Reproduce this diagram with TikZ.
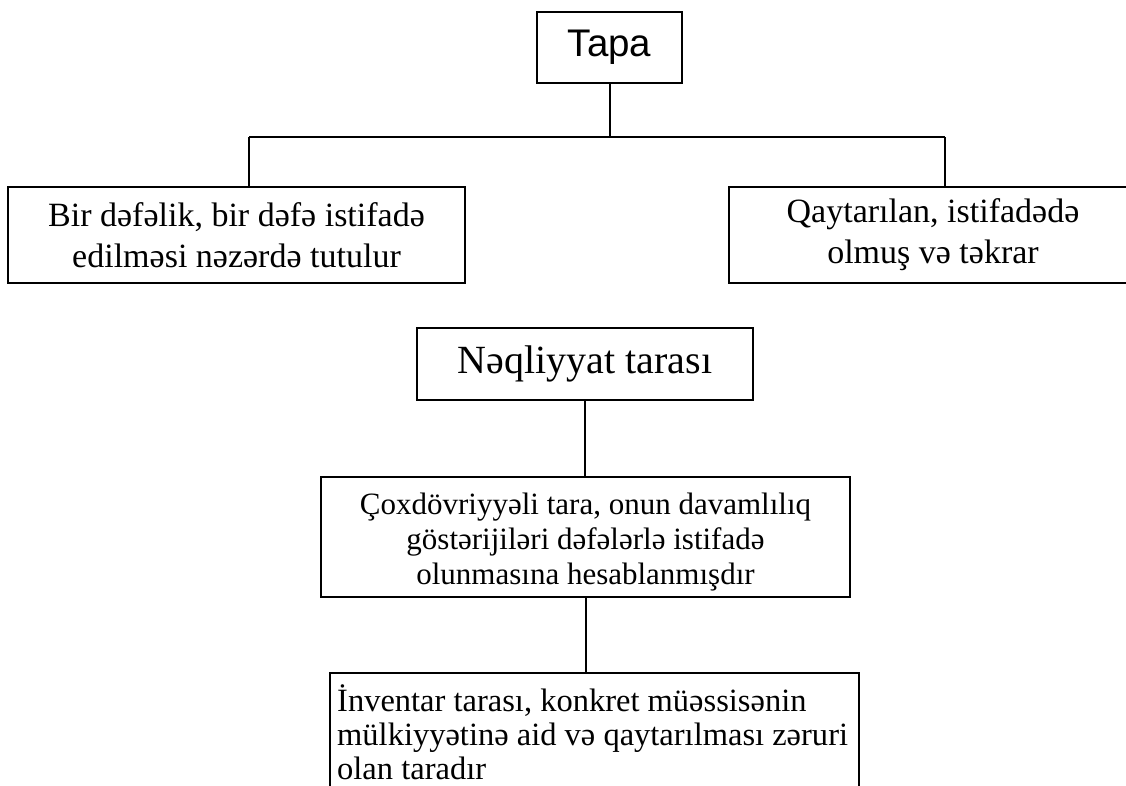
\documentclass[tikz,border=0pt]{standalone}
\usepackage{fontspec}
\setmainfont{Liberation Serif}
\newfontfamily\arialfont{Liberation Sans}
\newcommand\tightlines{\lineskiplimit=-100pt\relax}
\begin{document}
\begin{tikzpicture}[x=1pt,y=-1pt,
  box/.style={draw=black, line width=2.4pt, rectangle, inner sep=0pt},
  txtA/.style={font=\fontsize{34}{41}\selectfont\tightlines, align=center},
  txtB/.style={font=\fontsize{31}{35}\selectfont\tightlines, align=center},
  conn/.style={draw=black, line width=2pt}]
\clip (0,0) rectangle (1126,785);
\fill[white] (0,0) rectangle (1126,785);
% boxes
\node[box, minimum width=145pt, minimum height=71pt, font=\arialfont\fontsize{38.5}{42}\selectfont] (tapa) at (609.5,47.5) {Tapa};
\node[box, txtA, minimum width=457pt, minimum height=96pt] (left) at (236.5,235) {Bir dəfəlik, bir dəfə istifadə\\edilməsi nəzərdə tutulur};
\node[box, txtA, minimum width=408pt, minimum height=96pt] (right) at (933,235) {Qaytarılan, istifadədə\\olmuş və təkrar};
\node[box, minimum width=336pt, minimum height=72pt, font=\fontsize{40}{44}\selectfont] (neq) at (585,364) {Nəqliyyat tarası};
\node[box, minimum width=529pt, minimum height=120pt] (cox) at (585.5,537) {};
\node[txtB, inner sep=0pt] (coxtxt) at ([yshift=-5pt]cox.center) {Çoxdövriyyəli tara, onun davamlılıq\\göstərijiləri dəfələrlə istifadə\\olunmasına hesablanmışdır};
\node[box, minimum width=529pt, minimum height=140pt, anchor=north west] (inv) at (329,672) {};
\node[font=\fontsize{32.5}{34}\selectfont\tightlines, align=left, inner xsep=8pt, inner ysep=12pt, anchor=north west] (invtxt) at (inv.north west) {İnventar tarası, konkret müəssisənin\\mülkiyyətinə aid və qaytarılması zəruri\\olan taradır};
% connectors
\coordinate (hm) at (609.5,137);
\coordinate (hl) at (249,137);
\coordinate (hr) at (945,137);
\draw[conn] (tapa.south) -- (hm);
\draw[conn] (hl) -- (hr);
\draw[conn] (hl) -- (hl |- left.north);
\draw[conn] (hr) -- (hr |- right.north);
\draw[conn] (neq.south) -- (neq.south |- cox.north);
\draw[conn] (cox.south) -- (cox.south |- inv.north);
\end{tikzpicture}
\end{document}
